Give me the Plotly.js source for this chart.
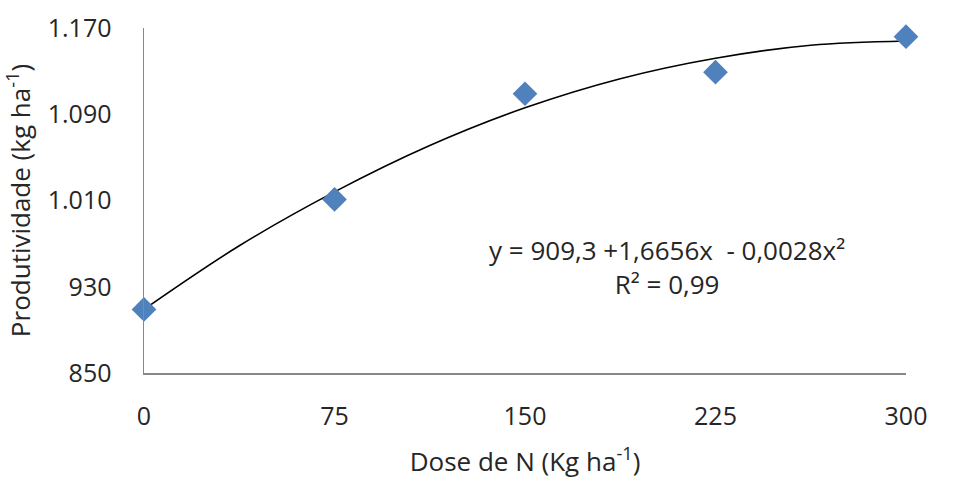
<!DOCTYPE html>
<html><head><meta charset="utf-8">
<script src="https://cdn.plot.ly/plotly-3.0.1.min.js"></script>
<style>html,body{margin:0;padding:0;background:#fff}#c{width:958px;height:496px}</style>
</head><body><div id="c"></div>
<script>
const doses = [0, 75, 150, 225, 300];
const produtividade = [909, 1011, 1109, 1129, 1162];
const trendX = [0, 37.5, 75, 112.5, 150, 187.5, 225, 262.5, 300];
const trendY = [909, 968, 1018, 1061, 1096, 1123, 1142, 1154, 1158];
const yTickVals = [850, 930, 1010, 1090, 1170];
const yTickText = ["850", "930", "1.010", "1.090", "1.170"];
const xTickVals = [0, 75, 150, 225, 300];
const FONT = "Open Sans, Noto Sans, sans-serif";
const TXT = '#262626';

const traces = [
  {x: trendX, y: trendY, mode: 'lines', type: 'scatter', line: {color: '#000', width: 1.6, shape: 'spline'}, hoverinfo: 'skip', cliponaxis: false},
  {x: doses, y: produtividade, mode: 'markers', type: 'scatter', marker: {symbol: 'diamond', size: 19, color: '#4F81BD'}, cliponaxis: false}
];
const layout = {
  width: 958, height: 496, showlegend: false,
  paper_bgcolor: '#fff', plot_bgcolor: '#fff',
  margin: {l: 144, r: 52, t: 28, b: 123},
  font: {family: FONT, color: TXT, size: 25},
  xaxis: {range: [0, 300], tickvals: xTickVals, showgrid: false, zeroline: false,
    showline: true, linecolor: '#888', linewidth: 1.5, ticks: 'outside', ticklen: 20, tickcolor: 'rgba(0,0,0,0)',
    tickfont: {family: FONT, size: 25, color: TXT},
    title: {text: 'Dose de N (Kg ha<sup>-1</sup>)', font: {family: FONT, size: 26, color: TXT}, standoff: 22}},
  yaxis: {range: [850, 1170], tickvals: yTickVals, ticktext: yTickText, showgrid: false, zeroline: false,
    showline: true, linecolor: '#888', linewidth: 1.5, ticks: 'outside', ticklen: 26, tickcolor: 'rgba(0,0,0,0)',
    tickfont: {family: FONT, size: 25, color: TXT},
    title: {text: 'Produtividade (kg ha<sup>-1</sup>)', font: {family: FONT, size: 26, color: TXT}, standoff: 13}},
  annotations: [
    {xref: 'paper', yref: 'paper', x: 0.686, y: 0.307, xanchor: 'center', yanchor: 'middle', showarrow: false,
     text: 'y = 909,3 +1,6656x  - 0,0028x²<br>R² = 0,99', align: 'center',
     font: {family: FONT, size: 26, color: TXT}}
  ]
};
Plotly.newPlot('c', traces, layout, {displayModeBar: false, staticPlot: true});
</script></body></html>
